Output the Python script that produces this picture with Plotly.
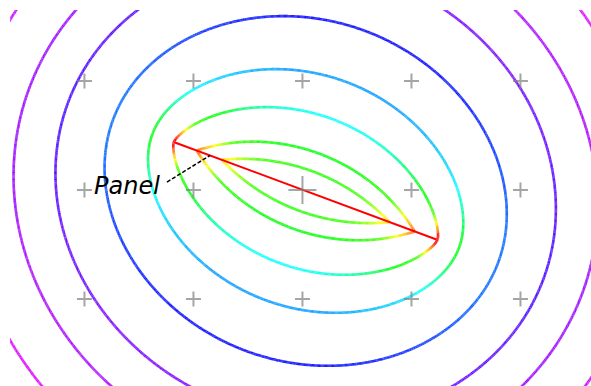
import numpy as np
import plotly.graph_objects as go

# Source panel end points (x, y)
panel_x = [-1.170, 1.229]
panel_y = [0.436, -0.454]

# Reference "+" marks on the unit grid
mark_x = [-2, -1, 0, 1, 2]
mark_y = [-1, 0, 1]

# Potential levels drawn as iso-lines, outer to inner
levels = [0.454, 0.389, 0.321, 0.221, 0.098, -0.014, -0.141, -0.216]

# Colour key: local flow speed -> hue (degrees)
speed_knots = [0.13, 0.16, 0.19, 0.22, 0.28, 0.34, 0.40, 0.48, 0.53, 0.60, 0.70]
hue_knots = [292, 278, 262, 240, 205, 180, 125, 105, 60, 30, 0]

label_text = "Panel"

# ---------------------------------------------------------------- panel field
P0 = np.array([panel_x[0], panel_y[0]])
P1 = np.array([panel_x[1], panel_y[1]])
C = (P0 + P1) / 2
T = (P1 - P0) / np.linalg.norm(P1 - P0)
N = np.array([-T[1], T[0]])
A = np.linalg.norm(P1 - P0) / 2


def local(x, y):
    dx = x - C[0]
    dy = y - C[1]
    X = dx * T[0] + dy * T[1]
    Y = dx * N[0] + dy * N[1]
    Y = np.where(np.abs(Y) < 1e-12, 1e-12, Y)
    return X, Y


def G(u, Y):
    return 0.5 * u * np.log(u * u + Y * Y + 1e-300) - u + Y * np.arctan(u / Y)


def phi(x, y):
    X, Y = local(np.asarray(x, float), np.asarray(y, float))
    return (G(X + A, Y) - G(X - A, Y)) / (2 * np.pi)


def speed(x, y):
    X, Y = local(np.asarray(x, float), np.asarray(y, float))
    vx = 0.5 * (np.log((X + A) ** 2 + Y ** 2) - np.log((X - A) ** 2 + Y ** 2)) / (2 * np.pi)
    vy = (np.arctan((X + A) / Y) - np.arctan((X - A) / Y)) / (2 * np.pi)
    return np.hypot(vx, vy)


# ---------------------------------------------------------------- iso-lines
def iso_segments(xs, ys, Z, L):
    za, zb, zc, zd = Z[:-1, :-1], Z[:-1, 1:], Z[1:, 1:], Z[1:, :-1]
    X0, Y0 = np.meshgrid(xs[:-1], ys[:-1])
    X1, Y1 = np.meshgrid(xs[1:], ys[1:])
    with np.errstate(all="ignore"):
        f0 = (L - za) / (zb - za)
        f1 = (L - zb) / (zc - zb)
        f2 = (L - zd) / (zc - zd)
        f3 = (L - za) / (zd - za)
    ex = np.stack([X0 + f0 * (X1 - X0), X1, X0 + f2 * (X1 - X0), X0]).reshape(4, -1).T
    ey = np.stack([Y0, Y0 + f1 * (Y1 - Y0), Y1, Y0 + f3 * (Y1 - Y0)]).reshape(4, -1).T
    sa, sb, sc, sd = za > L, zb > L, zc > L, zd > L
    m = np.stack([sa != sb, sb != sc, sd != sc, sa != sd]).reshape(4, -1).T
    cnt = m.sum(1)
    out = []
    two = cnt == 2
    mm = m[two]
    r = np.arange(len(mm))
    i1 = mm.argmax(1)
    mm2 = mm.copy()
    mm2[r, i1] = False
    i2 = mm2.argmax(1)
    exs, eys = ex[two], ey[two]
    out.append(np.column_stack([exs[r, i1], eys[r, i1], exs[r, i2], eys[r, i2]]))
    four = cnt == 4
    if four.any():
        e4x, e4y = ex[four], ey[four]
        out.append(np.column_stack([e4x[:, 0], e4y[:, 0], e4x[:, 1], e4y[:, 1]]))
        out.append(np.column_stack([e4x[:, 2], e4y[:, 2], e4x[:, 3], e4y[:, 3]]))
    return np.vstack(out)


gx = np.arange(-2.76, 2.76, 0.008)
gy = np.arange(-1.90, 1.75, 0.008)
GX, GY = np.meshgrid(gx, gy)
Z = phi(GX, GY)

segs = np.vstack([iso_segments(gx, gy, Z, L) for L in levels])
mx = (segs[:, 0] + segs[:, 2]) / 2
my = (segs[:, 1] + segs[:, 3]) / 2
hue = np.interp(speed(mx, my), speed_knots, hue_knots)
step = 4
hbin = np.round(hue / step).astype(int) * step


def hue_rgb(h):
    h = (h % 360) / 60.0
    x = 1 - abs(h % 2 - 1)
    k = int(h) % 6
    r, g, b = [(1, x, 0), (x, 1, 0), (0, 1, x), (0, x, 1), (x, 0, 1), (1, 0, x)][k]
    return "rgb(%d,%d,%d)" % (round(r * 255), round(g * 255), round(b * 255))


fig = go.Figure()
for hb in np.unique(hbin):
    s = segs[hbin == hb]
    xs = np.column_stack([s[:, 0], s[:, 2], np.full(len(s), np.nan)]).ravel()
    ys = np.column_stack([s[:, 1], s[:, 3], np.full(len(s), np.nan)]).ravel()
    fig.add_trace(go.Scatter(x=xs, y=ys, mode="lines", hoverinfo="skip",
                             line=dict(color=hue_rgb(hb), width=2.6), showlegend=False))

# the panel itself
fig.add_trace(go.Scatter(x=panel_x, y=panel_y, mode="lines",
                         line=dict(color="rgb(255,0,0)", width=2), showlegend=False))

# grid marks; the origin mark is drawn larger
MX, MY = np.meshgrid(mark_x, mark_y)
mxs, mys = MX.ravel(), MY.ravel()
sizes = np.where((mxs == 0) & (mys == 0), 20, 10.7)
fig.add_trace(go.Scatter(x=mxs, y=mys, mode="markers", showlegend=False,
                         marker=dict(symbol="cross-thin", size=sizes,
                                     line=dict(color="rgb(128,128,128)", width=2))))

# label with leader line pointing onto the panel
frac = 0.134
hx = panel_x[0] + frac * (panel_x[1] - panel_x[0])
hy = panel_y[0] + frac * (panel_y[1] - panel_y[0])
fig.add_shape(type="line", x0=-1.243, y0=0.073, x1=hx, y1=hy,
              line=dict(color="black", width=1.5, dash="4px,2px"))
fig.add_annotation(x=-1.606, y=0.040, text="<i>" + label_text + "</i>", showarrow=False,
                   xanchor="center", yanchor="middle",
                   font=dict(family="DejaVu Sans", size=24, color="black"))

fig.update_layout(
    width=591, height=386,
    margin=dict(l=10, r=0, t=10, b=0),
    paper_bgcolor="white", plot_bgcolor="white",
    xaxis=dict(range=[-2.683, 2.647], visible=False, fixedrange=True),
    yaxis=dict(range=[-1.798, 1.651], visible=False, fixedrange=True),
)
fig.write_html("out.html")
